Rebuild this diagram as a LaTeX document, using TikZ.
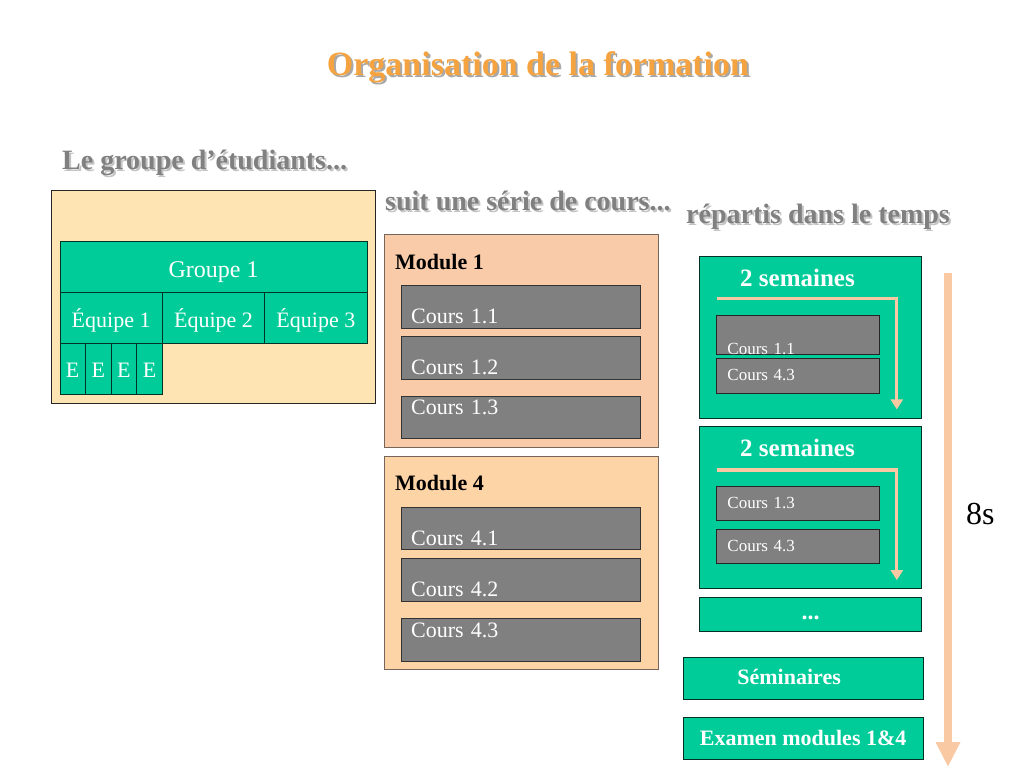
\documentclass[tikz,border=0pt]{standalone}
\usepackage{fontspec}
\setmainfont{Liberation Serif}
\usetikzlibrary{arrows.meta,calc,positioning}
\definecolor{titleorange}{HTML}{F4A340}
\definecolor{titleshadow}{HTML}{A8A8A8}
\definecolor{headgray}{HTML}{808080}
\definecolor{headshadow}{HTML}{C4C4C4}
\definecolor{groupfill}{HTML}{FFE4B3}
\definecolor{teamgreen}{HTML}{00CC99}
\definecolor{modonefill}{HTML}{F9CBA8}
\definecolor{modfourfill}{HTML}{FDD4A6}
\definecolor{modline}{HTML}{75655A}
\definecolor{coursgray}{HTML}{808080}
\definecolor{timepeach}{HTML}{F9C9A3}
\newcommand\shadowtext[2]{\makebox[0pt][l]{\hspace{2pt}\raisebox{-2pt}{\textcolor{#1}{#2}}}#2}
\def\fsize#1{\fontsize{#1pt}{#1pt}\selectfont}
\tikzset{
  % Boites
  box/.style       = {draw, line width=0.8pt, inner sep=0pt, anchor=north west},
  group box/.style = {box, fill=groupfill, draw=black!85},
  green box/.style = {box, fill=teamgreen, draw=black!75!teamgreen, text=white},
  team cell/.style = {green box, font=\fsize{22}, text height=35pt, text depth=16pt,
                      minimum width=102.4, minimum height=51},
  mod box/.style   = {box, draw=modline, minimum width=274, minimum height=213},
  % Cours
  cours/.style n args = {2}{box, fill=coursgray, draw=black!80, text=white,
                      font=\fsize{22}, inner xsep=10pt, align=left,
                      text width=219.5pt, text height=#1, text depth=#2},
  small cours/.style n args = {2}{box, fill=coursgray, draw=black!85, text=white,
                      font=\fsize{17}, inner xsep=11pt, align=left,
                      text width=141pt, text height=#1, text depth=#2},
  % Titres
  heading/.style   = {anchor=base west, inner sep=0pt, text=headgray, font=\bfseries\fsize{28}},
  mod title/.style = {anchor=base west, inner sep=0pt, font=\bfseries\fsize{22}},
  week title/.style= {anchor=base west, inner sep=0pt, text=white, font=\bfseries\fsize{25}},
  % Fleches
  week arrow/.style= {timepeach, line width=3.3pt, -{Triangle[width=12pt,length=10pt]}},
  time arrow/.style= {timepeach, line width=8pt, -{Triangle[width=23pt,length=25pt]}},
}

\begin{document}
\begin{tikzpicture}[x=1pt, y=-1pt]
\useasboundingbox (0,0) rectangle (1024,768);

\node[anchor=base, inner sep=0pt, text=titleorange, font=\bfseries\fsize{34}] (title) at (538,75)
  {\shadowtext{titleshadow}{Organisation de la formation}};

%---------------------------------------------
\node[heading] (hgroup) at (62,169) {\shadowtext{headshadow}{Le groupe d’étudiants...}};
\node[group box, minimum width=324, minimum height=213] (groupbox) at (51,189.5) {};
\node[green box, font=\fsize{24}, text height=36pt, text depth=15pt,
      minimum width=307.3, minimum height=51] (groupe) at (59.5,241) {Groupe 1};
\foreach \i/\x in {1/59.5,2/161.9,3/264.3}
  \node[team cell] (eq\i) at (\x,292) {Équipe \i};
\foreach \i in {1,...,4}
  \node[team cell, minimum width=25.6, text height=34pt, text depth=17pt] (e\i) at ({59.5+25.6*(\i-1)},343) {E};

%---------------------------------------------
\node[heading] (hcours) at (385,210.5) {\shadowtext{headshadow}{suit une série de cours...}};
\node[mod box, fill=modonefill] (mod1) at (383.5,233.5) {};
\node[mod title] (mod1t) at ([shift={(11.5,35.5)}]mod1.north west) {Module 1};
\foreach \n/\y/\h/\d in {1/285/38.3/4.4, 2/336/38.3/4.7, 3/395.7/18.3/24.3}
  \node[cours={\h pt}{\d pt}] (c1\n) at (400.7,\y) {Cours 1.\n};

\node[mod box, fill=modfourfill] (mod4) at (383.5,455.5) {};
\node[mod title] (mod4t) at ([shift={(11.5,34.5)}]mod4.north west) {Module 4};
\foreach \n/\y/\h/\d in {1/507.3/37.7/4.3, 2/558.3/37.7/4.7, 3/617.7/19/24}
  \node[cours={\h pt}{\d pt}] (c4\n) at (400.7,\y) {Cours 4.\n};

%---------------------------------------------
\node[heading] (htemps) at (686,223.3) {\shadowtext{headshadow}{répartis dans le temps}};

\node[green box, minimum width=222, minimum height=162] (w1) at (699.3,256) {};
\node[week title] (w1t) at ([shift={(40.7,30)}]w1.north west) {2 semaines};
\coordinate (w1a) at ([shift={(17.4,42.7)}]w1.north west);
\coordinate (w1b) at ([shift={(-25.3,-9.4)}]w1.south east);
\draw[week arrow] (w1a) -| (w1b);
\node[small cours={39pt}{-4.3pt}] (w1c1) at (716,315) {Cours 1.1};
\node[small cours={21.7pt}{12.7pt}] (w1c2) at (716,358.3) {Cours 4.3};

\node[green box, minimum width=222, minimum height=162] (w2) at (699.3,426.3) {};
\node[week title] (w2t) at ([shift={(40.7,29.7)}]w2.north west) {2 semaines};
\coordinate (w2a) at ([shift={(17.4,43.7)}]w2.north west);
\coordinate (w2b) at ([shift={(-25.3,-9)}]w2.south east);
\draw[week arrow] (w2a) -| (w2b);
\node[small cours={22.3pt}{11.7pt}] (w2c1) at (716,486) {Cours 1.3};
\node[small cours={22.3pt}{12.3pt}] (w2c2) at (716,528.7) {Cours 4.3};

\node[green box, font=\bfseries\fsize{24}, text height=21.7pt, text depth=12pt,
      minimum width=222, minimum height=33.7] (wdots) at (699.3,597.3) {...};
\node[green box, font=\bfseries\fsize{22}, text height=27pt, text depth=15pt,
      minimum width=240, minimum height=42] (semin) at (682.7,657.3) {Séminaires\hspace*{28pt}};
\node[green box, font=\bfseries\fsize{22}, text height=28.3pt, text depth=14.3pt,
      minimum width=240, minimum height=42.6] (exam) at (682.7,716.7) {Examen modules 1\&4};

\coordinate (tstart) at (948,272.7);
\coordinate (tend) at (948,767);
\draw[time arrow] (tstart) -- (tend);
\node[anchor=base west, inner sep=0pt, font=\fsize{32}] (duree) at (966,524) {8s};
\end{tikzpicture}
\end{document}
